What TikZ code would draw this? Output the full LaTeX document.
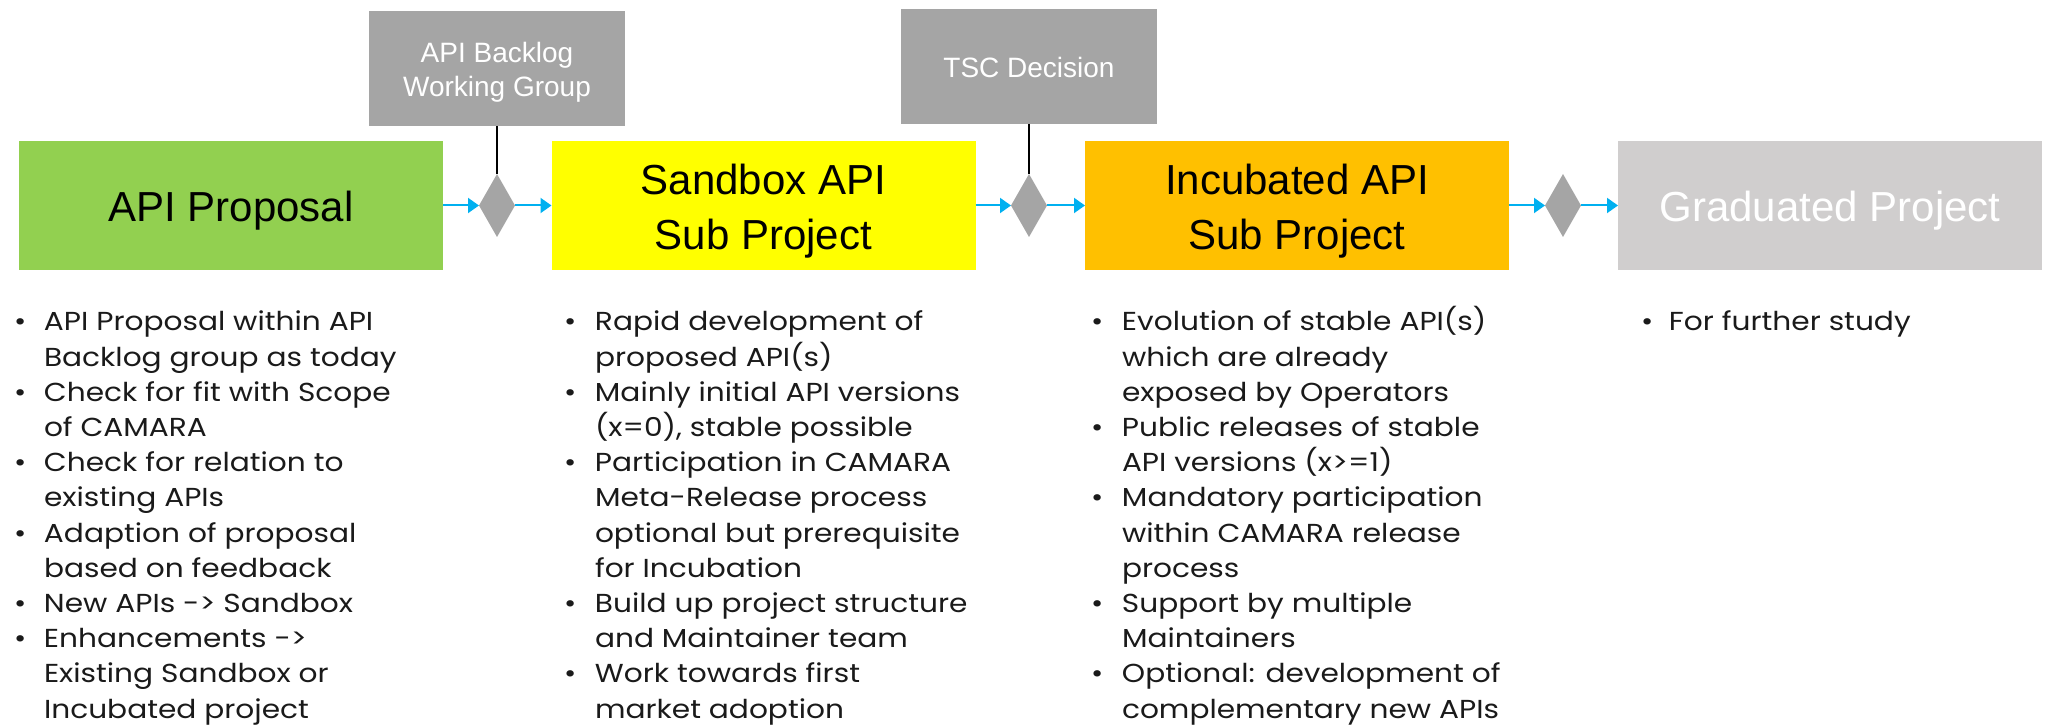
\documentclass[tikz,border=0pt]{standalone}
\usepackage{fontspec}
\setmainfont{Liberation Sans}
\newfontfamily\bulfont[FakeStretch=1.14]{Poppins}
\usetikzlibrary{shapes.geometric,arrows.meta}
\definecolor{cgreen}{HTML}{92D050}
\definecolor{cyellow}{HTML}{FFFF00}
\definecolor{corange}{HTML}{FFC000}
\definecolor{cgray}{HTML}{A5A5A5}
\definecolor{clight}{HTML}{D0CECE}
\definecolor{ccyan}{HTML}{00B0F0}
\definecolor{ctext}{HTML}{1A1A1A}
\newcommand{\bl}{\textbullet}
\begin{document}
\begin{tikzpicture}[x=0.5pt,y=-0.5pt,
  stagebox/.style={rectangle, inner sep=0pt, outer sep=0pt, minimum width=212pt, minimum height=64.5pt, align=center, font=\fontsize{21}{27.5}\selectfont},
  oneline/.style={text height=16pt, text depth=0pt},
  twoline/.style={text height=49.5pt, text depth=5pt},
  gatebox/.style={rectangle, fill=cgray, text=white, inner sep=0pt, outer sep=0pt, minimum width=128pt, minimum height=57.5pt, align=center, font=\fontsize{14}{17}\selectfont},
  gate/.style={diamond, fill=cgray, inner sep=0pt, outer sep=0pt, minimum width=18pt, minimum height=31.5pt},
  flow/.style={draw=ccyan, line width=1pt, -{Triangle[length=5.5pt,width=7.5pt]}},
  tie/.style={draw=black, line width=0.7pt},
  bullets/.style={anchor=base west, inner sep=0pt, outer sep=0pt, text=ctext, font=\bulfont\fontsize{13}{17.6}\selectfont}
]
\useasboundingbox (0,0) rectangle (2046,726);

% stage boxes
\node[stagebox, oneline, fill=cgreen] (prop) at (231,205.5) {API Proposal};
\node[stagebox, twoline, fill=cyellow] (sand) at (763.5,205.5) {Sandbox API\\Sub Project};
\node[stagebox, twoline, fill=corange] (incu) at (1297,205.5) {Incubated API\\Sub Project};
\node[stagebox, oneline, fill=clight, text=white] (grad) at (1830,205.5) {Graduated Project};

% gate boxes
\node[gatebox, text height=32.4pt, text depth=4pt] (wg) at (497,68.3) {API Backlog\\Working Group};
\node[gatebox, text height=10.8pt, text depth=0pt] (tsc) at (1029,66.5) {TSC Decision};

% diamonds
\node[gate] (d1) at (497,205.5) {};
\node[gate] (d2) at (1029,205.5) {};
\node[gate] (d3) at (1563,205.5) {};

% connectors
\draw[tie] (wg.south) -- (d1.north);
\draw[tie] (tsc.south) -- (d2.north);
\draw[flow] (prop.east) -- (d1.west);
\draw[flow] (d1.east) -- (sand.west);
\draw[flow] (sand.east) -- (d2.west);
\draw[flow] (d2.east) -- (incu.west);
\draw[flow] (incu.east) -- (d3.west);
\draw[flow] (d3.east) -- (grad.west);

% bullet lists
\node[bullets] (c1) at (14,331) {\begin{tabular}[t]{@{}p{15pt}@{}l@{}}
\bl & API Proposal within API\\
    & Backlog group as today\\
\bl & Check for fit with Scope\\
    & of CAMARA\\
\bl & Check for relation to\\
    & existing APIs\\
\bl & Adaption of proposal\\
    & based on feedback\\
\bl & New APIs -> Sandbox\\
\bl & Enhancements ->\\
    & Existing Sandbox or\\
    & Incubated project
\end{tabular}};

\node[bullets] (c2) at (564,331) {\begin{tabular}[t]{@{}p{15.5pt}@{}l@{}}
\bl & Rapid development of\\
    & proposed API(s)\\
\bl & Mainly initial API versions\\
    & (x=0), stable possible\\
\bl & Participation in CAMARA\\
    & Meta-Release process\\
    & optional but prerequisite\\
    & for Incubation\\
\bl & Build up project structure\\
    & and Maintainer team\\
\bl & Work towards first\\
    & market adoption
\end{tabular}};

\node[bullets] (c3) at (1091,331) {\begin{tabular}[t]{@{}p{15.5pt}@{}l@{}}
\bl & Evolution of stable API(s)\\
    & which are already\\
    & exposed by Operators\\
\bl & Public releases of stable\\
    & API versions (x>=1)\\
\bl & Mandatory participation\\
    & within CAMARA release\\
    & process\\
\bl & Support by multiple\\
    & Maintainers\\
\bl & Optional: development of\\
    & complementary new APIs
\end{tabular}};

\node[bullets] (c4) at (1641,331) {\begin{tabular}[t]{@{}p{14pt}@{}l@{}}
\bl & For further study
\end{tabular}};
\end{tikzpicture}
\end{document}
